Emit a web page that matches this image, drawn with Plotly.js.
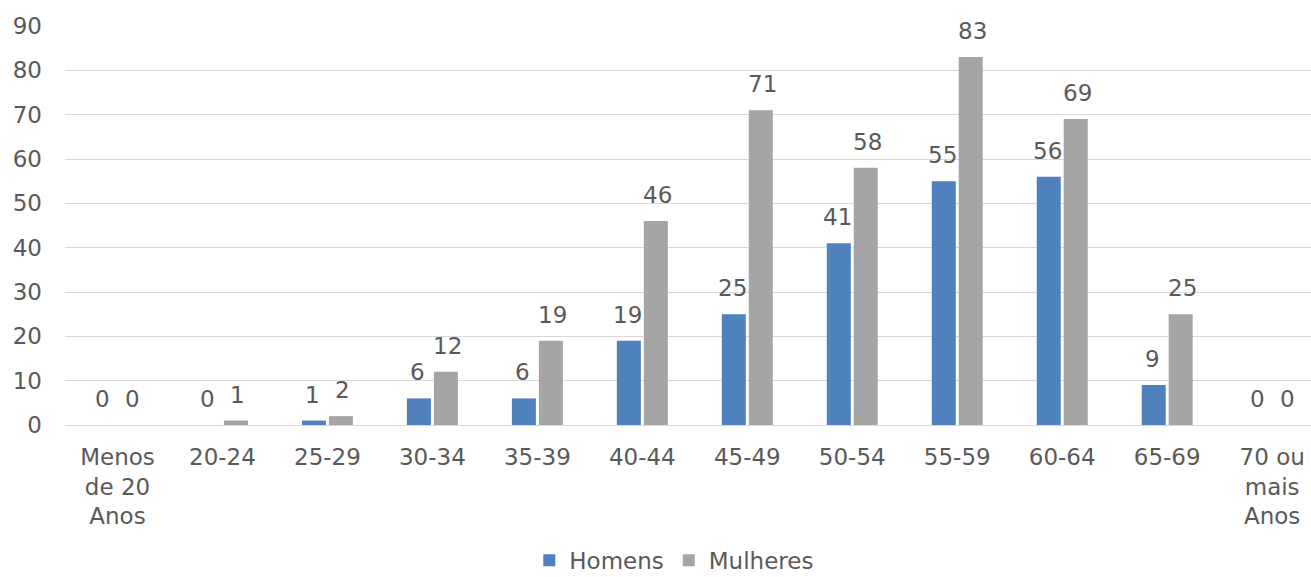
<!DOCTYPE html>
<html><head><meta charset="utf-8">
<script src="https://cdn.plot.ly/plotly-3.0.1.min.js"></script>
<style>body{margin:0;padding:0;background:#fff}#c{width:1311px;height:577px}</style>
</head><body><div id="c"></div>
<script>
var categories = ["Menos<br>de 20<br>Anos","20-24","25-29","30-34","35-39","40-44","45-49","50-54","55-59","60-64","65-69","70 ou<br>mais<br>Anos"];
var homens = [0,0,1,6,6,19,25,41,55,56,9,0];
var mulheres = [0,1,2,12,19,46,71,58,83,69,25,0];
var yTicks = [0,10,20,30,40,50,60,70,80,90];

var fontFam = "DejaVu Sans, Verdana, sans-serif";
var txtColor = "#595959";
var fs = 23;

var traces = [
  {type:"bar", name:"Homens", x:categories, y:homens, marker:{color:"#4F81BD"}, hoverinfo:"skip"},
  {type:"bar", name:"Mulheres", x:categories, y:mulheres, marker:{color:"#A5A5A5"}, hoverinfo:"skip"}
];

var ann = [];
categories.forEach(function(c,i){
  ann.push({x:c, y:homens[i], text:String(homens[i]), showarrow:false, xanchor:"center", yanchor:"bottom", xshift:-15, yshift:11, font:{family:fontFam,size:fs,color:txtColor}});
  ann.push({x:c, y:mulheres[i], text:String(mulheres[i]), showarrow:false, xanchor:"center", yanchor:"bottom", xshift:15, yshift:11, font:{family:fontFam,size:fs,color:txtColor}});
});

var layout = {
  width:1311, height:577,
  margin:{l:65, r:0, t:26, b:152, autoexpand:false},
  paper_bgcolor:"#fff", plot_bgcolor:"#fff",
  barmode:"group", bargap:0.486, bargroupgap:0.11,
  font:{family:fontFam, size:fs, color:txtColor},
  xaxis:{type:"category", range:[-0.5, 11.37], automargin:false, showgrid:false, showline:true, linecolor:"#D9D9D9", linewidth:1, ticks:"", tickfont:{family:fontFam,size:fs,color:txtColor}, ticklabelstandoff:11, fixedrange:true},
  yaxis:{range:[0,90], automargin:false, tickvals:yTicks, ticktext:yTicks.map(String), showgrid:true, gridcolor:"#D9D9D9", gridwidth:1, zeroline:false, showline:false, ticks:"", tickfont:{family:fontFam,size:fs,color:txtColor}, ticklabelstandoff:22, fixedrange:true},
  showlegend:true,
  legend:{orientation:"h", x:0.489, xanchor:"center", y:-0.285, yanchor:"top", font:{family:fontFam,size:fs,color:txtColor}, itemwidth:30, traceorder:"normal", bgcolor:"rgba(0,0,0,0)"},
  annotations:ann
};
Plotly.newPlot("c", traces, layout, {displayModeBar:false, staticPlot:true});
</script></body></html>
